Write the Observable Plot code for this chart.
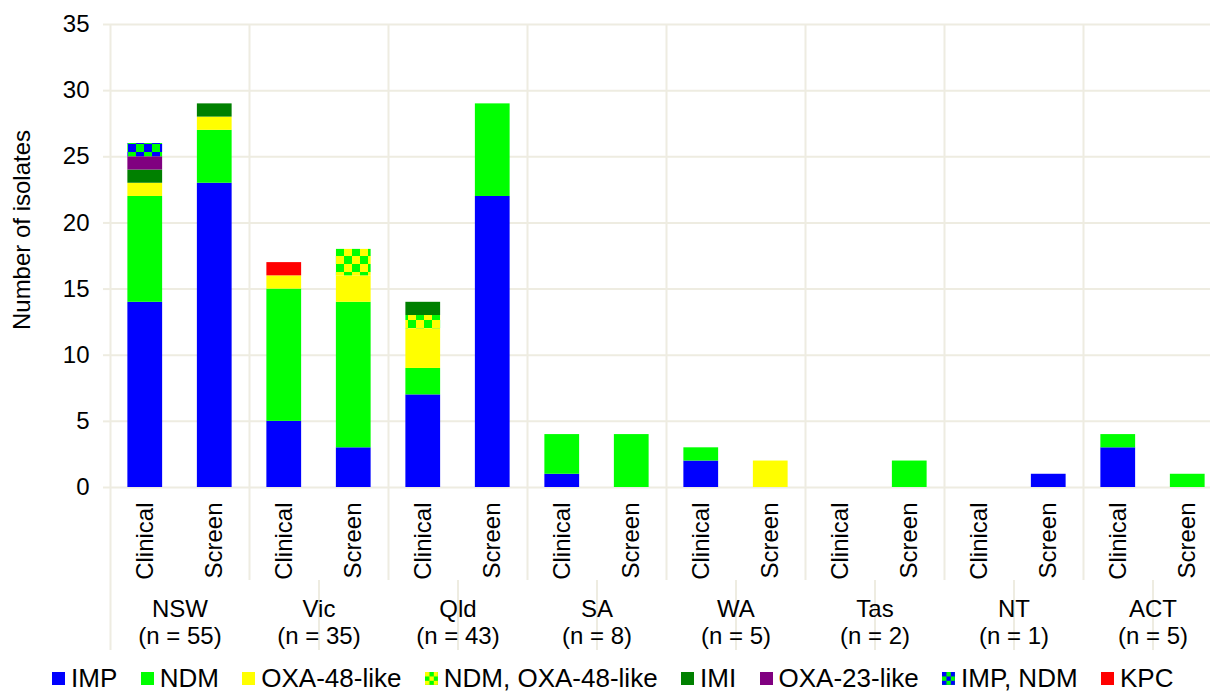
<!DOCTYPE html>
<html>
<head>
<meta charset="utf-8">
<script src="https://cdn.jsdelivr.net/npm/d3@7"></script>
<script src="https://cdn.jsdelivr.net/npm/@observablehq/plot@0.6"></script>
<style>
  body { margin: 0; background: #fff; font-family: "Liberation Sans", Arial, sans-serif; color: #000; }
  #chart { width: 1210px; overflow: hidden; }
  #chart svg { max-width: none !important; display: block; }
  #legend { display: flex; align-items: center; padding-left: 52px; margin-top: 3px; height: 30px;
            font-size: 26px; line-height: 30px; white-space: nowrap; }
  .item { display: flex; align-items: center; margin-right: 23.4px; }
  .item svg { margin-right: 6px; display: block; }
</style>
</head>
<body>
<div id="chart"></div>
<div id="legend"></div>
<script>
// ---- data ----
const states = ["NSW", "Vic", "Qld", "SA", "WA", "Tas", "NT", "ACT"];
const stateN = [55, 35, 43, 8, 5, 2, 1, 5];
const sources = ["Clinical", "Screen"];
const types = ["IMP", "NDM", "OXA-48-like", "NDM, OXA-48-like", "IMI", "OXA-23-like", "IMP, NDM", "KPC"];
// values per bar, order: NSW Clinical, NSW Screen, Vic Clinical, Vic Screen, ...
const impVals      = [14, 23, 5, 3, 7, 22, 1, 0, 2, 0, 0, 0, 0, 1, 3, 0];
const ndmVals      = [8, 4, 10, 11, 2, 7, 3, 4, 1, 0, 0, 2, 0, 0, 1, 1];
const oxa48Vals    = [1, 1, 1, 2, 3, 0, 0, 0, 0, 2, 0, 0, 0, 0, 0, 0];
const ndmOxa48Vals = [0, 0, 0, 2, 1, 0, 0, 0, 0, 0, 0, 0, 0, 0, 0, 0];
const imiVals      = [1, 1, 0, 0, 1, 0, 0, 0, 0, 0, 0, 0, 0, 0, 0, 0];
const oxa23Vals    = [1, 0, 0, 0, 0, 0, 0, 0, 0, 0, 0, 0, 0, 0, 0, 0];
const impNdmVals   = [1, 0, 0, 0, 0, 0, 0, 0, 0, 0, 0, 0, 0, 0, 0, 0];
const kpcVals      = [0, 0, 1, 0, 0, 0, 0, 0, 0, 0, 0, 0, 0, 0, 0, 0];
const seriesVals = [impVals, ndmVals, oxa48Vals, ndmOxa48Vals, imiVals, oxa23Vals, impNdmVals, kpcVals];

// ---- styles ----
const typeFills = ["#0000ff", "#00ff00", "#ffff00", "url(#pat-ndm-oxa)", "#008000", "#800080", "url(#pat-imp-ndm)", "#ff0000"];
const patterns = {
  "pat-ndm-oxa": ["#ffff00", "#00ff00"],
  "pat-imp-ndm": ["#0000ff", "#00ff00"]
};
const gridColor = "#eeece1";
const fontFamily = '"Liberation Sans", Arial, sans-serif';

// ---- build table ----
const keys = states.flatMap(s => sources.map(t => `${s}|${t}`));
const rows = [];
types.forEach((type, ti) => {
  keys.forEach((key, ki) => {
    const v = seriesVals[ti][ki];
    if (v > 0) rows.push({key, type, count: v});
  });
});
const clinicalKeys = keys.filter(k => k.endsWith("|Clinical"));
const groupLabels = states.map((s, i) => ({key: `${s}|Clinical`, label: `${s}\n(n = ${stateN[i]})`}));

// ---- layout ----
const W = 1222, H = 660, ML = 110, MR = 0, MT = 24, axisY0 = 487;
const MB = H - axisY0;
const padIn = 0.5, padOut = 0.25;
const step = (W - ML - MR) / (keys.length - padIn + 2 * padOut);
const tier1Bottom = 580, tier2Bottom = 650;

const svg = Plot.plot({
  width: W, height: H,
  marginLeft: ML, marginRight: MR, marginTop: MT, marginBottom: MB,
  style: {fontFamily, fontSize: "24px", color: "#000", background: "#fff", maxWidth: "none"},
  x: {type: "band", domain: keys, paddingInner: padIn, paddingOuter: padOut, round: false},
  y: {domain: [0, 35]},
  color: {domain: types, range: typeFills},
  marks: [
    Plot.gridY({ticks: d3.range(0, 36, 5), stroke: gridColor, strokeOpacity: 1, strokeWidth: 2}),
    // group separators (first tier)
    Plot.ruleX(clinicalKeys.slice(1), {dx: -step / 2, stroke: gridColor, strokeWidth: 2, insetBottom: -(tier1Bottom - axisY0)}),
    Plot.ruleX(clinicalKeys.slice(0, 1), {dx: -step / 2, stroke: gridColor, strokeWidth: 2, insetBottom: -(tier2Bottom - axisY0)}),
    // second tier separators
    Plot.ruleX(clinicalKeys.slice(1), {dx: step / 2, stroke: gridColor, strokeWidth: 2,
      insetTop: tier1Bottom - MT, insetBottom: -(tier2Bottom - axisY0)}),
    Plot.barY(rows, {x: "key", y: "count", fill: "type"}),
    Plot.axisY({ticks: d3.range(0, 36, 5), tickSize: 7, tickPadding: 14, stroke: gridColor, strokeWidth: 2,
      strokeOpacity: 1, fill: "#000", fontSize: 24, label: null}),
    Plot.axisX({tickSize: 0, tickPadding: 15, tickRotate: -90, fontSize: 24, fill: "#000",
      tickFormat: k => k.split("|")[1], label: null}),
    Plot.text(groupLabels, {x: "key", text: "label", dx: step / 2, frameAnchor: "bottom", lineAnchor: "top",
      dy: 111, lineHeight: 1.1, fontSize: 24, fill: "#000"}),
    Plot.text(["Number of isolates"], {frameAnchor: "left", textAnchor: "middle", lineAnchor: "middle",
      rotate: -90, dx: -88, dy: -26, fontSize: 24, fill: "#000"})
  ]
});

// pattern definitions
function addPatterns(svgSel, cell, suffix) {
  const defs = svgSel.insert("defs", ":first-child");
  for (const [id, [c1, c2]] of Object.entries(patterns)) {
    const p = defs.append("pattern").attr("id", id + suffix).attr("patternUnits", "userSpaceOnUse")
      .attr("width", cell * 2).attr("height", cell * 2);
    p.append("rect").attr("width", cell * 2).attr("height", cell * 2).attr("fill", c1);
    p.append("rect").attr("x", cell).attr("width", cell).attr("height", cell).attr("fill", c2);
    p.append("rect").attr("y", cell).attr("width", cell).attr("height", cell).attr("fill", c2);
  }
}
addPatterns(d3.select(svg), 8, "");
svg.style.maxWidth = "none";
document.getElementById("chart").appendChild(svg);

// legend
const legend = d3.select("#legend");
types.forEach((t, i) => {
  const item = legend.append("div").attr("class", "item");
  const sw = item.append("svg").attr("width", 13).attr("height", 13);
  const fill = typeFills[i];
  if (fill.startsWith("url(")) {
    const id = fill.slice(5, -1);
    addPatterns(sw, 4.4, "-lg" + i);
    sw.append("rect").attr("width", 13).attr("height", 13).attr("fill", `url(#${id}-lg${i})`);
  } else {
    sw.append("rect").attr("width", 13).attr("height", 13).attr("fill", fill);
  }
  item.append("span").text(t);
});
</script>
</body>
</html>
